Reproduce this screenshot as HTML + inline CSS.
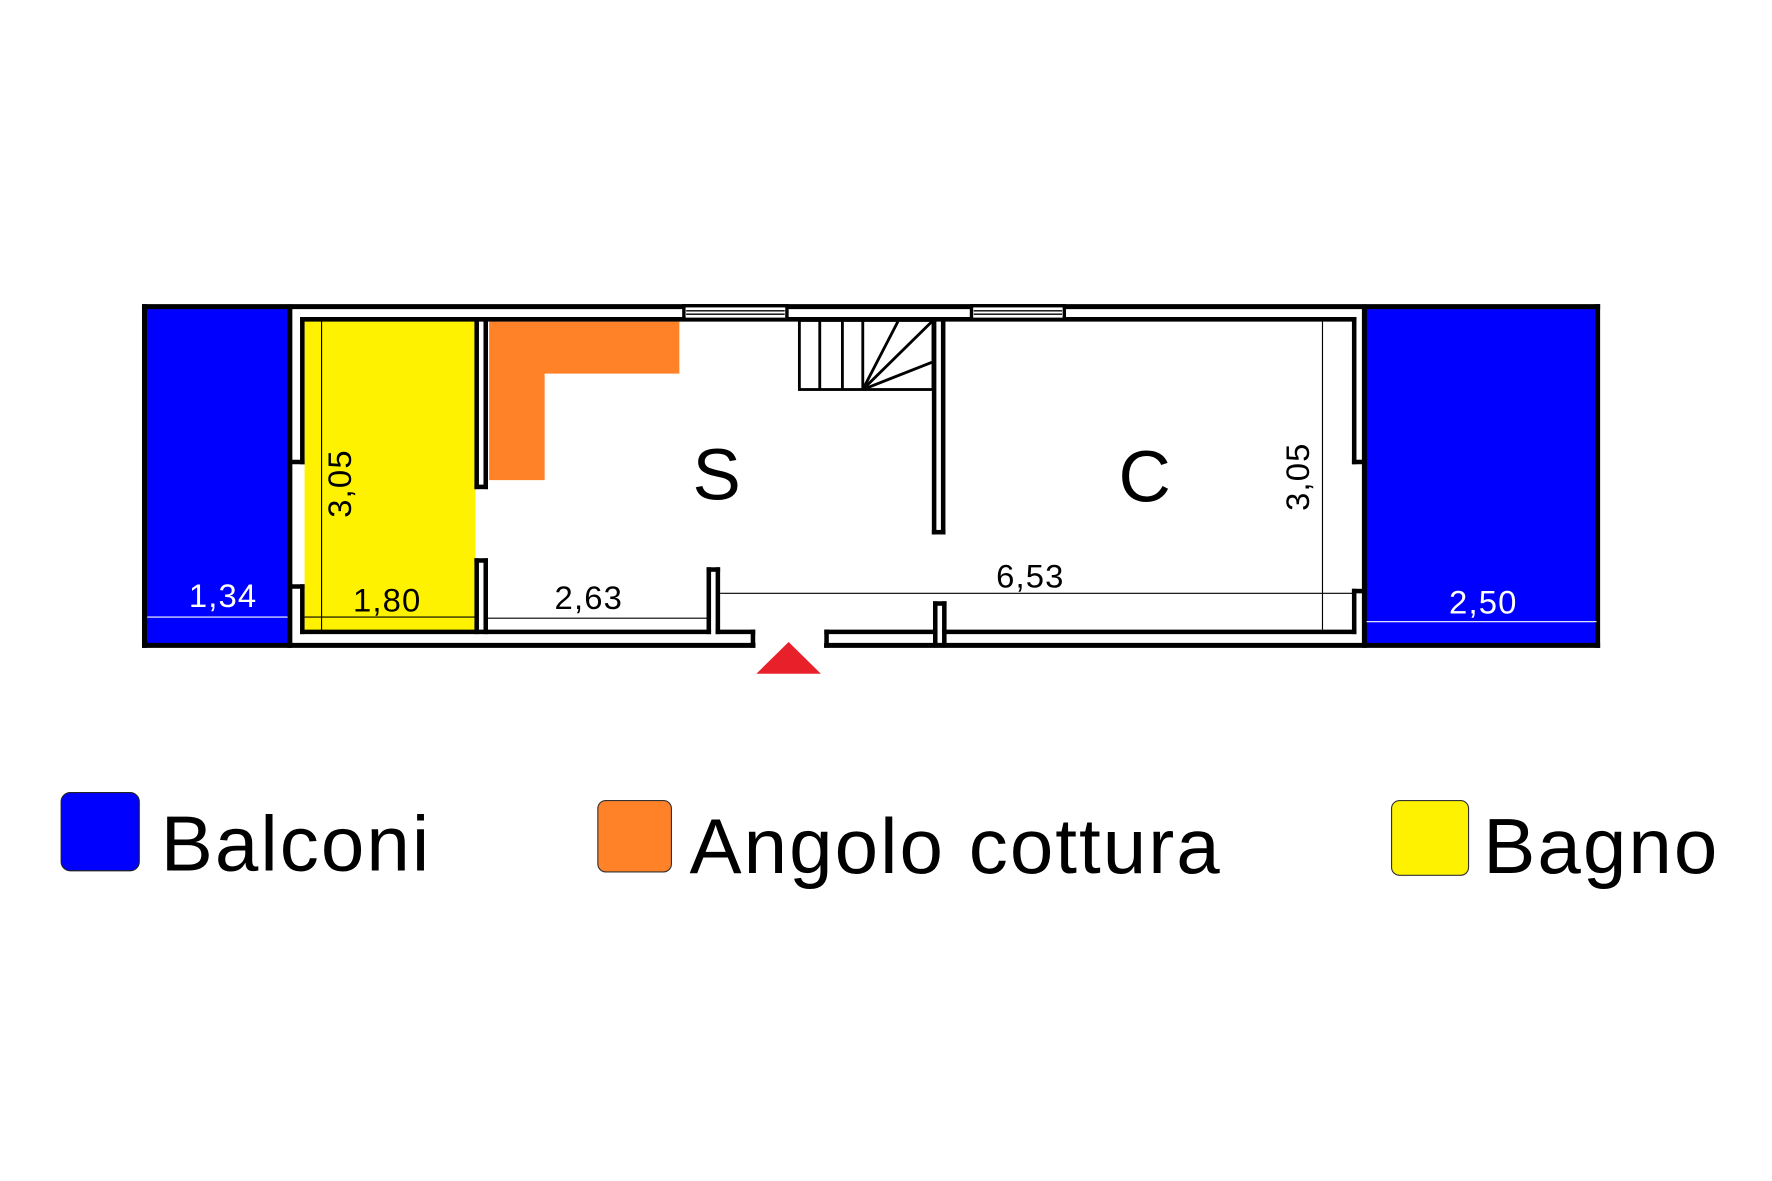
<!DOCTYPE html>
<html><head><meta charset="utf-8"><style>html,body{margin:0;padding:0;background:#fff}svg{display:block}</style></head>
<body>
<svg width="1772" height="1181" viewBox="0 0 1565 1043" preserveAspectRatio="none" xmlns="http://www.w3.org/2000/svg" font-family="Liberation Sans, sans-serif">
<rect x="0" y="0" width="1565" height="1043" fill="#fff"/>
<rect x="128" y="271" width="128" height="299" fill="#0000ff"/>
<rect x="1205" y="271" width="207" height="299" fill="#0000ff"/>
<rect x="269" y="284" width="151" height="274" fill="#fff200"/>
<polygon points="432,284 600,284 600,330 481,330 481,424 432,424" fill="#ff8228"/>
<g stroke="#000" stroke-width="4.4" fill="none" stroke-linecap="square">
<line x1="127.6" y1="270.8" x2="1411" y2="270.8"/>
<line x1="127.6" y1="270.8" x2="127.6" y2="570"/>
<line x1="1411" y1="270.8" x2="1411" y2="570"/>
<line x1="127.6" y1="570" x2="665" y2="570"/>
<line x1="730" y1="570" x2="1411" y2="570"/>
<line x1="256" y1="271" x2="256" y2="570"/>
<line x1="1205" y1="271" x2="1205" y2="570"/>
</g>
<g stroke="#000" stroke-width="4" fill="none" stroke-linecap="square">
<line x1="267" y1="282" x2="1196" y2="282"/>
<line x1="267" y1="282" x2="267" y2="408"/><line x1="256" y1="408" x2="267" y2="408"/>
<line x1="267" y1="518" x2="267" y2="558"/><line x1="256" y1="518" x2="267" y2="518"/>
<line x1="1196" y1="282" x2="1196" y2="408"/><line x1="1196" y1="408" x2="1205" y2="408"/>
<line x1="1196" y1="522" x2="1196" y2="558"/><line x1="1196" y1="522" x2="1205" y2="522"/>
<line x1="267" y1="558" x2="626" y2="558"/>
<line x1="634" y1="558" x2="665" y2="558"/><line x1="665" y1="558" x2="665" y2="570"/>
<line x1="730" y1="558" x2="826" y2="558"/><line x1="834" y1="558" x2="1196" y2="558"/><line x1="730" y1="558" x2="730" y2="570"/>
<line x1="626" y1="503" x2="626" y2="558"/><line x1="634" y1="503" x2="634" y2="558"/><line x1="626" y1="503" x2="634" y2="503"/>
<line x1="825" y1="282" x2="825" y2="470"/><line x1="833" y1="282" x2="833" y2="470"/><line x1="825" y1="470" x2="833" y2="470"/>
<line x1="826" y1="533" x2="826" y2="570"/><line x1="834" y1="533" x2="834" y2="570"/><line x1="826" y1="533" x2="834" y2="533"/>
<line x1="421" y1="282" x2="421" y2="430"/><line x1="429" y1="282" x2="429" y2="430"/><line x1="421" y1="430" x2="429" y2="430"/>
<line x1="421" y1="495" x2="421" y2="558"/><line x1="429" y1="495" x2="429" y2="558"/><line x1="421" y1="495" x2="429" y2="495"/>
</g>
<g stroke="#000" fill="#fff">
<rect x="604" y="270" width="91" height="12" stroke-width="3"/>
<rect x="858" y="270" width="82" height="12" stroke-width="3"/>
<line x1="606" y1="274.5" x2="693" y2="274.5" stroke-width="1.2"/><line x1="606" y1="277.5" x2="693" y2="277.5" stroke-width="1.2"/>
<line x1="860" y1="274.5" x2="938" y2="274.5" stroke-width="1.2"/><line x1="860" y1="277.5" x2="938" y2="277.5" stroke-width="1.2"/>
</g>
<g stroke="#000" stroke-width="2.5" fill="none">
<rect x="706" y="283" width="118" height="61"/>
<line x1="724" y1="283" x2="724" y2="344"/><line x1="744" y1="283" x2="744" y2="344"/><line x1="762" y1="283" x2="762" y2="344"/>
<line x1="762" y1="344" x2="793" y2="284"/><line x1="762" y1="344" x2="823" y2="284"/><line x1="762" y1="344" x2="823" y2="320"/>
</g>
<g stroke-width="1" fill="none">
<line x1="284" y1="283" x2="284" y2="558" stroke="#000"/>
<line x1="269" y1="545" x2="420" y2="545" stroke="#000"/>
<line x1="431" y1="546" x2="625" y2="546" stroke="#000"/>
<line x1="636" y1="524" x2="1196" y2="524" stroke="#000"/>
<line x1="1168" y1="284" x2="1168" y2="556" stroke="#000"/>
<line x1="130" y1="545" x2="254" y2="545" stroke="#fff"/>
<line x1="1207" y1="549" x2="1410" y2="549" stroke="#fff"/>
</g>
<g font-size="29" text-anchor="middle" letter-spacing="1">
<text x="197" y="536" fill="#fff">1,34</text>
<text x="342" y="540">1,80</text>
<text x="520" y="538">2,63</text>
<text x="910" y="519">6,53</text>
<text x="1310" y="542" fill="#fff">2,50</text>
<text transform="translate(310,427) rotate(-90)">3,05</text>
<text transform="translate(1156,421) rotate(-90)">3,05</text>
</g>
<text x="633" y="441" font-size="64" text-anchor="middle">S</text>
<text x="1011" y="443" font-size="64" text-anchor="middle">C</text>
<polygon points="668,595 725,595 696.5,567" fill="#e8202a"/>
<rect x="54" y="700" width="69" height="69" rx="8" fill="#0000ff" stroke="#222" stroke-width="1"/>
<rect x="528" y="707" width="65" height="63" rx="7" fill="#ff8228" stroke="#333" stroke-width="1"/>
<rect x="1229" y="707" width="68" height="66" rx="7" fill="#fff200" stroke="#333" stroke-width="1"/>
<g font-size="69" fill="#000" letter-spacing="1.8">
<text x="142" y="769">Balconi</text>
<text x="609" y="771">Angolo cottura</text>
<text x="1310" y="771">Bagno</text>
</g>
</svg>
</body></html>
